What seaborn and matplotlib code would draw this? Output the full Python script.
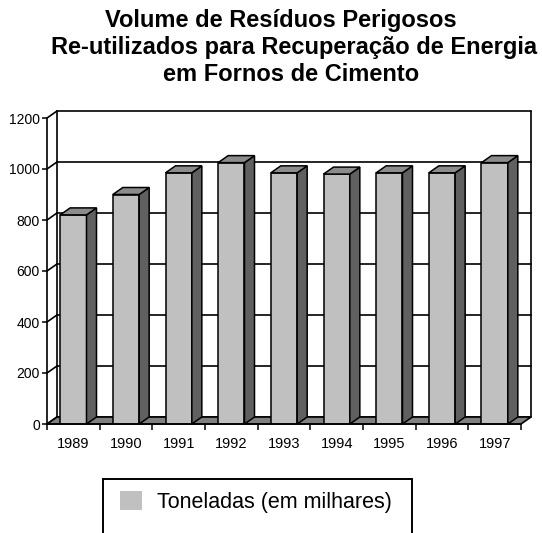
import matplotlib
matplotlib.use('Agg')
import matplotlib.pyplot as plt
import matplotlib.patches as mpatches
import seaborn as sns
import pandas as pd

sns.set_theme(style='ticks')
plt.rcParams['font.family'] = ['Liberation Sans', 'DejaVu Sans']
plt.rcParams['text.color'] = 'black'

years = ['1989', '1990', '1991', '1992', '1993', '1994', '1995', '1996', '1997']
toneladas = [820, 900, 985, 1025, 985, 980, 985, 985, 1025]
y_ticks = [0, 200, 400, 600, 800, 1000, 1200]
title_lines = ['Volume de Resíduos Perigosos',
               'Re-utilizados para Recuperação de Energia',
               'em Fornos de Cimento']
legend_label = 'Toneladas (em milhares)'

FRONT = '#c0c0c0'
SIDE = '#606060'
TOP = '#8c8c8c'
FLOOR = '#808080'
W, H = 542, 533
DX, DY = 10, 7  # depth offset in pixels

fig = plt.figure(figsize=(W / 100, H / 100), dpi=100)
ax = fig.add_axes([47 / W, 1 - 424 / H, (521 - 47) / W, (424 - 118) / H])
ax.patch.set_alpha(0)

df = pd.DataFrame({'ano': years, 'valor': toneladas})
sns.barplot(data=df, x='ano', y='valor', color=FRONT, saturation=1, width=0.5,
            edgecolor='black', linewidth=1.1, ax=ax, zorder=3)
bars = list(ax.containers[0])
ax.set_xlim(-0.5, len(years) - 0.5)
ax.set_ylim(0, 1200)

# depth offset converted to data units
ddx = DX * len(years) / (521 - 47)
ddy = DY * 1200 / (424 - 118)
x0, x1 = -0.5, len(years) - 0.5
lw = 1.2

# floor
ax.add_patch(mpatches.Polygon([(x0, 0), (x1, 0), (x1 + ddx, ddy), (x0 + ddx, ddy)],
                              closed=True, facecolor=FLOOR, edgecolor='black',
                              linewidth=lw, zorder=1, clip_on=False))
# back wall and left wall lines
for v in y_ticks:
    ax.plot([x0 + ddx, x1 + ddx], [v + ddy, v + ddy], color='black', lw=lw,
            zorder=0.5, clip_on=False)
    ax.plot([x0, x0 + ddx], [v, v + ddy], color='black', lw=lw, zorder=0.5, clip_on=False)
for xx in (x0 + ddx, x1 + ddx):
    ax.plot([xx, xx], [ddy, 1200 + ddy], color='black', lw=lw, zorder=0.5, clip_on=False)

# 3D sides and tops of bars
for p in bars:
    bx, bw, bh = p.get_x(), p.get_width(), p.get_height()
    ax.add_patch(mpatches.Polygon([(bx + bw, 0), (bx + bw + ddx, ddy), (bx + bw + ddx, bh + ddy), (bx + bw, bh)],
                                  closed=True, facecolor=SIDE, edgecolor='black', linewidth=1.1,
                                  zorder=3, clip_on=False))
    ax.add_patch(mpatches.Polygon([(bx, bh), (bx + ddx, bh + ddy), (bx + bw + ddx, bh + ddy), (bx + bw, bh)],
                                  closed=True, facecolor=TOP, edgecolor='black', linewidth=1.1,
                                  zorder=3, clip_on=False))

ax.set_xlabel('')
ax.set_ylabel('')
ax.set_yticks(y_ticks)
ax.set_yticklabels([str(v) for v in y_ticks])
ax.set_xticks(range(len(years)))
ax.set_xticklabels(years)
ax.set_xticks([i - 0.5 for i in range(len(years) + 1)], minor=True)
ax.tick_params(axis='y', length=3.6, width=1.1, pad=1.5, labelsize=10, colors='black')
ax.tick_params(axis='x', which='major', length=0, pad=9, labelsize=10.5, colors='black')
ax.tick_params(axis='x', which='minor', length=4.3, width=1.1, color='black')
for s in ('top', 'right'):
    ax.spines[s].set_visible(False)
for s in ('left', 'bottom'):
    ax.spines[s].set_color('black')
    ax.spines[s].set_linewidth(1.2)
    ax.spines[s].set_zorder(4)

# title
fig.text(280.5 / W, 1 - 27 / H, title_lines[0], ha='center', va='baseline', fontsize=17, fontweight='bold')
fig.text(294.5 / W, 1 - 54 / H, title_lines[1], ha='center', va='baseline', fontsize=17, fontweight='bold')
fig.text(291 / W, 1 - 81 / H, title_lines[2], ha='center', va='baseline', fontsize=17, fontweight='bold')

# legend (frame runs off the bottom edge, like the original)
handle = mpatches.Patch(facecolor=FRONT, edgecolor='none', label=legend_label)
fig.legend(handles=[handle], loc='upper left', bbox_to_anchor=(103 / W, 1 - 474 / H),
           borderaxespad=0, borderpad=0.8, handlelength=1.0, handleheight=1.0,
           handletextpad=0.7, fontsize=15.5, frameon=False)
fig.add_artist(mpatches.Rectangle((103 / W, 1 - 545 / H), 309 / W, 66 / H,
                                  transform=fig.transFigure, facecolor='none',
                                  edgecolor='black', linewidth=1.4))

fig.savefig('out.png', dpi=100)
